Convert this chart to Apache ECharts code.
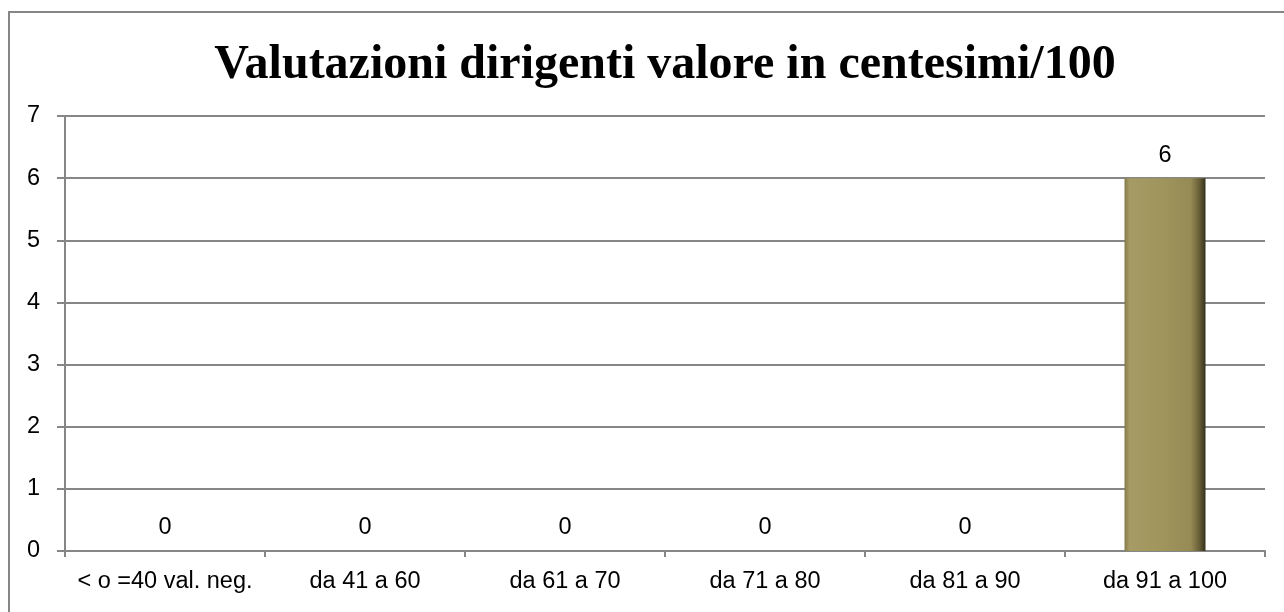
<!DOCTYPE html>
<html><head><meta charset="utf-8">
<script src="https://cdn.jsdelivr.net/npm/echarts@6/dist/echarts.min.js"></script>
<style>html,body{margin:0;padding:0;background:#fff}#c{width:1284px;height:612px}</style>
</head><body><div id="c"></div>
<script>
const titleText = 'Valutazioni dirigenti valore in centesimi/100';
const categories = ['< o =40 val. neg.', 'da 41 a 60', 'da 61 a 70', 'da 71 a 80', 'da 81 a 90', 'da 91 a 100'];
const values = [0, 0, 0, 0, 0, 6];
const yTicks = [0, 1, 2, 3, 4, 5, 6, 7];

const chart = echarts.init(document.getElementById('c'), null, {renderer: 'canvas'});
const labelFont = 'Liberation Sans';
const labelSize = 23.5;
chart.setOption({
  animation: false,
  backgroundColor: '#fff',
  graphic: [{
    type: 'rect', shape: {x: 9, y: 12, width: 1320, height: 700},
    style: {fill: 'none', stroke: '#868686', lineWidth: 2}, z: -1
  }],
  title: {
    text: titleText, left: 660, textAlign: 'center', top: 37,
    textStyle: {fontFamily: 'Liberation Serif', fontWeight: 'bold', fontSize: 48, color: '#000'}
  },
  grid: {left: 65, right: 19, top: 116, bottom: 61, containLabel: false},
  xAxis: {
    type: 'category', data: categories,
    axisLine: {lineStyle: {color: '#868686', width: 2}},
    axisTick: {show: true, interval: 0, length: 6, alignWithLabel: false, lineStyle: {color: '#868686', width: 2}},
    axisLabel: {interval: 0, color: '#000', fontFamily: labelFont, fontSize: labelSize, margin: 19}
  },
  yAxis: {
    type: 'value', min: 0, max: 7, interval: 1,
    axisLine: {show: true, lineStyle: {color: '#868686', width: 2}},
    axisTick: {show: true, length: 8, lineStyle: {color: '#868686', width: 2}},
    axisLabel: {color: '#000', fontFamily: labelFont, fontSize: labelSize, margin: 25,
      formatter: v => yTicks.includes(v) ? String(v) : ''},
    splitLine: {show: true, lineStyle: {color: '#868686', width: 2}}
  },
  series: [{
    type: 'bar', data: values, barWidth: 81,
    itemStyle: {
      color: new echarts.graphic.LinearGradient(0, 0, 1, 0, [
        {offset: 0, color: '#857b4a'},
        {offset: 0.06, color: '#a69b64'},
        {offset: 0.5, color: '#9f945c'},
        {offset: 0.82, color: '#968a55'},
        {offset: 0.92, color: '#6a6138'},
        {offset: 1, color: '#35301c'}
      ]),
      borderWidth: 0
    },
    label: {show: true, position: 'top', distance: 11, color: '#000',
      fontFamily: labelFont, fontSize: labelSize}
  }]
});
</script></body></html>
